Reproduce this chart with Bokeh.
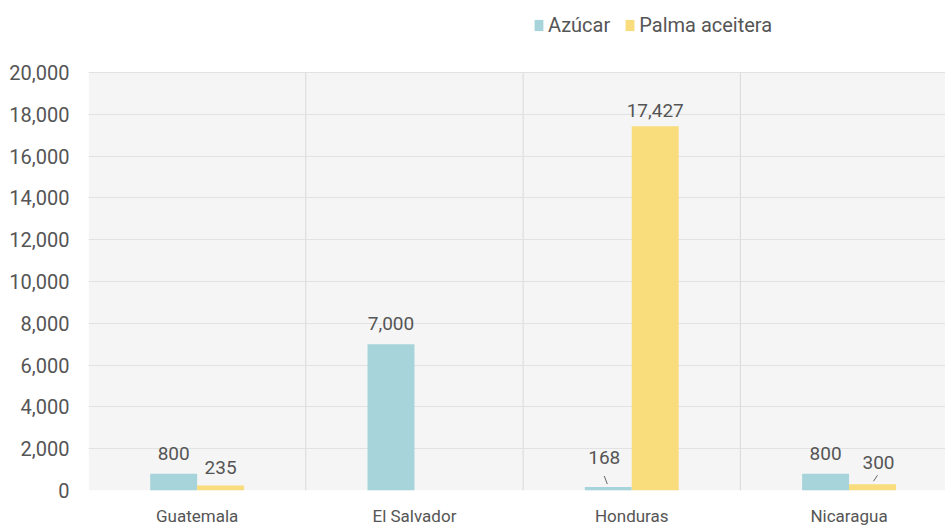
from bokeh.plotting import figure
from bokeh.models import ColumnDataSource, FixedTicker, Range1d, Legend, LegendItem, NumeralTickFormatter, BoxAnnotation
from bokeh.core.properties import value
from bokeh.embed import file_html
from bokeh.resources import INLINE

countries = ["Guatemala", "El Salvador", "Honduras", "Nicaragua"]
azucar = [800, 7000, 168, 800]
palma = [235, 0, 17427, 300]
series_names = ["Azúcar", "Palma aceitera"]
y_ticks = [0, 2000, 4000, 6000, 8000, 10000, 12000, 14000, 16000, 18000, 20000]

FONT = "Roboto"
TXT = "#555555"
C_AZ = "#a7d4da"
C_PA = "#f9dc7b"
BG = "#f5f5f5"

frame_w = 857          # px
data_h = 418           # px for 0..20000
top_gap = 72           # px above the data area (legend zone)
frame_h = data_h + top_gap
cat_px = 217.3
bar_w = 0.216
y_max = y_ticks[-1]
y_end = y_max * frame_h / data_h

p = figure(width=945, height=527, output_backend="svg", toolbar_location=None,
           x_range=Range1d(0, frame_w / cat_px), y_range=Range1d(0, y_end),
           frame_width=frame_w, frame_height=frame_h,
           min_border_left=88, min_border_top=0, min_border_bottom=37, min_border_right=0)
p.background_fill_color = "white"
p.border_fill_color = "white"
p.outline_line_color = None

# grey plotting area 0..20000
p.add_layout(BoxAnnotation(bottom=0, top=y_max, fill_color=BG, fill_alpha=1, line_color=None, level="image"))

centers = [i + 0.5 for i in range(len(countries))]
x_az = [c - bar_w / 2 for c in centers]
x_pa = [c + bar_w / 2 for c in centers]

# category separators
seps = [float(i) for i in range(1, len(countries))]
p.segment(x0=seps, y0=[0] * len(seps), x1=seps, y1=[y_max] * len(seps),
          line_color="#d9d9d9", line_width=1, level="underlay")

src = ColumnDataSource(dict(x_az=x_az, x_pa=x_pa, az=azucar, pa=palma))

r_az = p.vbar(x="x_az", top="az", width=bar_w, bottom=0, source=src, fill_color=C_AZ, line_color=None)
r_pa = p.vbar(x="x_pa", top="pa", width=bar_w, bottom=0, source=src, fill_color=C_PA, line_color=None)

# value labels (pixel offsets per label as style)
az_off_y = [-20, -21, -29, -20]
az_off_x = [0, 0, -4, 0]
pa_off_y = [-18, 0, -16, -22]
pa_off_x = [0, 0, 0, 6]
for i in range(len(countries)):
    p.text(x=[x_az[i]], y=[azucar[i]], text=[f"{azucar[i]:,}"], x_offset=az_off_x[i], y_offset=az_off_y[i],
           text_align="center", text_baseline="middle", text_font=value(FONT),
           text_font_size="19px", text_color=TXT)
    if palma[i]:
        p.text(x=[x_pa[i]], y=[palma[i]], text=[f"{palma[i]:,}"], x_offset=pa_off_x[i], y_offset=pa_off_y[i],
               text_align="center", text_baseline="middle", text_font=value(FONT),
               text_font_size="19px", text_color=TXT)

# leader lines for small bars (Honduras azúcar, Nicaragua palma)
u = y_max / data_h
xu = 1 / cat_px
p.segment(x0=[x_az[2] - 1 * xu], y0=[azucar[2] + 3 * u], x1=[x_az[2] - 4 * xu], y1=[azucar[2] + 11 * u],
          line_color="#666666", line_width=1)
p.segment(x0=[x_pa[3] + 1 * xu], y0=[palma[3] + 3 * u], x1=[x_pa[3] + 5 * xu], y1=[palma[3] + 9 * u],
          line_color="#666666", line_width=1)

# axes
p.yaxis.ticker = FixedTicker(ticks=y_ticks)
p.yaxis.formatter = NumeralTickFormatter(format="0,0")
p.yaxis.major_label_text_font = FONT
p.yaxis.major_label_text_font_size = "20px"
p.yaxis.major_label_text_color = TXT
p.yaxis.major_label_standoff = 13
p.yaxis.axis_line_color = None
p.yaxis.major_tick_line_color = None
p.yaxis.minor_tick_line_color = None

p.xaxis.ticker = FixedTicker(ticks=centers)
p.xaxis.major_label_overrides = {c: n for c, n in zip(centers, countries)}
p.xaxis.major_label_text_font = FONT
p.xaxis.major_label_text_font_size = "17px"
p.xaxis.major_label_text_color = TXT
p.xaxis.major_label_standoff = 9
p.xaxis.axis_line_color = None
p.xaxis.major_tick_line_color = None
p.xaxis.minor_tick_line_color = None

p.ygrid.ticker = FixedTicker(ticks=y_ticks)
p.ygrid.grid_line_color = "#e2e2e2"
p.xgrid.visible = False

legend = Legend(items=[LegendItem(label=series_names[0], renderers=[r_az]),
                       LegendItem(label=series_names[1], renderers=[r_pa])],
                orientation="horizontal", location=(445, frame_h - 37),
                border_line_color=None, background_fill_alpha=0, padding=0, margin=0,
                spacing=14, label_standoff=4, glyph_width=11, glyph_height=14,
                label_text_font=FONT, label_text_font_size="20px", label_text_color=TXT)
p.add_layout(legend)

open("out.html", "w").write(file_html(p, INLINE))
